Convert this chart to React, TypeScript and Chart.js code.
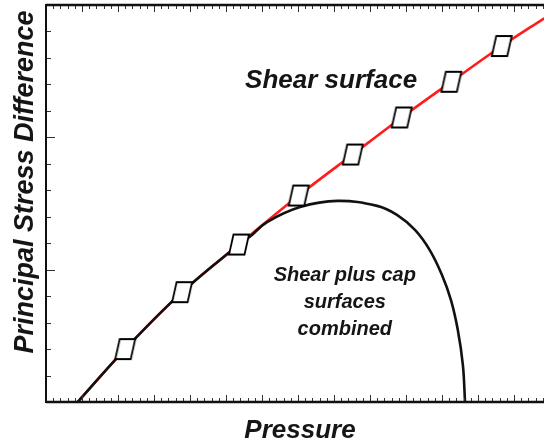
import React, { useEffect, useRef } from "react";
import { Chart, registerables } from "chart.js";

Chart.register(...registerables);

// Axis extents (minor-tick units; every 5th tick is a major tick)
const xMax = 69.17;
const yMax = 15;

// Shear surface (red), points along the failure line
const shearX = [4.4, 11.0, 18.9, 26.8, 35.1, 42.6, 49.4, 56.3, 63.3, 69.2];
const shearY = [0, 2.0, 4.15, 5.95, 7.8, 9.35, 10.75, 12.1, 13.45, 14.5];

// Combined shear + cap surface (black)
const capX = [4.4, 11.0, 18.9, 26.8, 28.3, 30.7, 35.3, 40.5, 46.0, 48.75, 51.25, 53.3, 55.0, 56.25, 57.2, 57.9, 58.2];
const capY = [0, 2.0, 4.15, 5.95, 6.24, 6.8, 7.37, 7.6, 7.41, 7.07, 6.5, 5.74, 4.8, 3.85, 2.72, 1.4, 0];

// Test points marked on the shear surface
const markerX = [11.0, 18.9, 26.8, 35.1, 42.6, 49.4, 56.3, 63.3];
const markerY = [2.0, 4.15, 5.95, 7.8, 9.35, 10.75, 12.1, 13.45];

const xTitle = "Pressure";
const yTitle = "Principal Stress Difference";
const shearLabel = "Shear surface";
const capLabel = ["Shear plus cap", "surfaces", "combined"];

const FONT = '"Liberation Sans", Arial, sans-serif';
const INK = "#151515";

function makeMarker(): HTMLCanvasElement {
  const c = document.createElement("canvas");
  c.width = 24;
  c.height = 24;
  const g = c.getContext("2d")!;
  g.beginPath();
  g.moveTo(6.5, 2);
  g.lineTo(22, 2);
  g.lineTo(17.5, 22);
  g.lineTo(2, 22);
  g.closePath();
  g.fillStyle = "#ffffff";
  g.fill();
  g.lineWidth = 1.8;
  g.lineJoin = "miter";
  g.strokeStyle = "#000";
  g.stroke();
  return c;
}

const framePlugin = {
  id: "frame",
  afterDatasetsDraw(chart: any) {
    const { ctx, chartArea, scales } = chart;
    const xs = scales.x;
    const ys = scales.y;
    const { left, right, top, bottom } = chartArea;
    ctx.save();

    // tick marks drawn inward
    ctx.strokeStyle = "#333";
    ctx.lineWidth = 1;
    ctx.beginPath();
    for (let i = 1; i <= Math.floor(xMax); i++) {
      const px = Math.round(xs.getPixelForValue(i)) + 0.5;
      const major = i % 5 === 0;
      ctx.moveTo(px, top);
      ctx.lineTo(px, top + (major ? 7 : 4));
      ctx.moveTo(px, bottom);
      ctx.lineTo(px, bottom - (major ? 7 : 4));
    }
    for (let j = 1; j < yMax; j++) {
      const py = Math.round(ys.getPixelForValue(j)) + 0.5;
      const major = j % 5 === 0;
      ctx.moveTo(left, py);
      ctx.lineTo(left + (major ? 9 : 5), py);
    }
    ctx.stroke();

    // axis lines
    ctx.strokeStyle = "#111";
    ctx.lineWidth = 2.5;
    ctx.beginPath();
    ctx.moveTo(left, top);
    ctx.lineTo(right, top);
    ctx.moveTo(left, bottom);
    ctx.lineTo(right, bottom);
    ctx.stroke();
    ctx.lineWidth = 2;
    ctx.beginPath();
    ctx.moveTo(left, top - 1);
    ctx.lineTo(left, bottom + 1);
    ctx.stroke();

    // annotations
    ctx.fillStyle = INK;
    ctx.textAlign = "center";
    ctx.textBaseline = "alphabetic";
    ctx.font = `italic bold 26px ${FONT}`;
    ctx.fillText(shearLabel, xs.getPixelForValue(39.6), ys.getPixelForValue(11.87));

    ctx.font = `italic bold 20px ${FONT}`;
    const capCx = xs.getPixelForValue(41.5);
    const capBase = [4.57, 3.55, 2.53];
    capLabel.forEach((t, k) => ctx.fillText(t, capCx, ys.getPixelForValue(capBase[k])));

    // axis titles
    ctx.font = `italic bold 26px ${FONT}`;
    ctx.fillText(xTitle, 300, 438);
    ctx.font = `italic bold 27px ${FONT}`;
    ctx.translate(33, 182);
    ctx.rotate(-Math.PI / 2);
    ctx.fillText(yTitle, 0, 0);
    ctx.restore();
  },
};

export default function App() {
  const ref = useRef<HTMLCanvasElement>(null);

  useEffect(() => {
    const marker = makeMarker();
    const chart = new Chart(ref.current!, {
      type: "line",
      data: {
        datasets: [
          {
            label: "points",
            data: markerX.map((x, i) => ({ x, y: markerY[i] })),
            showLine: false,
            pointStyle: marker as any,
            pointRadius: 8,
            pointHoverRadius: 8,
            clip: false as any,
          },
          {
            label: "cap",
            data: capX.map((x, i) => ({ x, y: capY[i] })),
            borderColor: "#111111",
            borderWidth: 2.6,
            pointRadius: 0,
            tension: 0.4,
            fill: false,
          },
          {
            label: "shear",
            data: shearX.map((x, i) => ({ x, y: shearY[i] })),
            borderColor: "#ff1c1c",
            borderWidth: 2.6,
            pointRadius: 0,
            cubicInterpolationMode: "monotone",
            fill: false,
          },
        ],
      },
      options: {
        responsive: false,
        animation: false,
        devicePixelRatio: 1,
        layout: { autoPadding: false, padding: { left: 46, top: 5, right: 0, bottom: 42 } },
        scales: {
          x: { type: "linear", min: 0, max: xMax, display: false },
          y: { type: "linear", min: 0, max: yMax, display: false },
        },
        plugins: { legend: { display: false }, tooltip: { enabled: false } },
        events: [],
      },
      plugins: [framePlugin],
    });
    return () => chart.destroy();
  }, []);

  return (
    <div style={{ position: "fixed", left: 0, top: 0, width: 544, height: 444, background: "#fff" }}>
      <canvas ref={ref} width={544} height={444} style={{ display: "block", width: 544, height: 444 }} />
    </div>
  );
}
